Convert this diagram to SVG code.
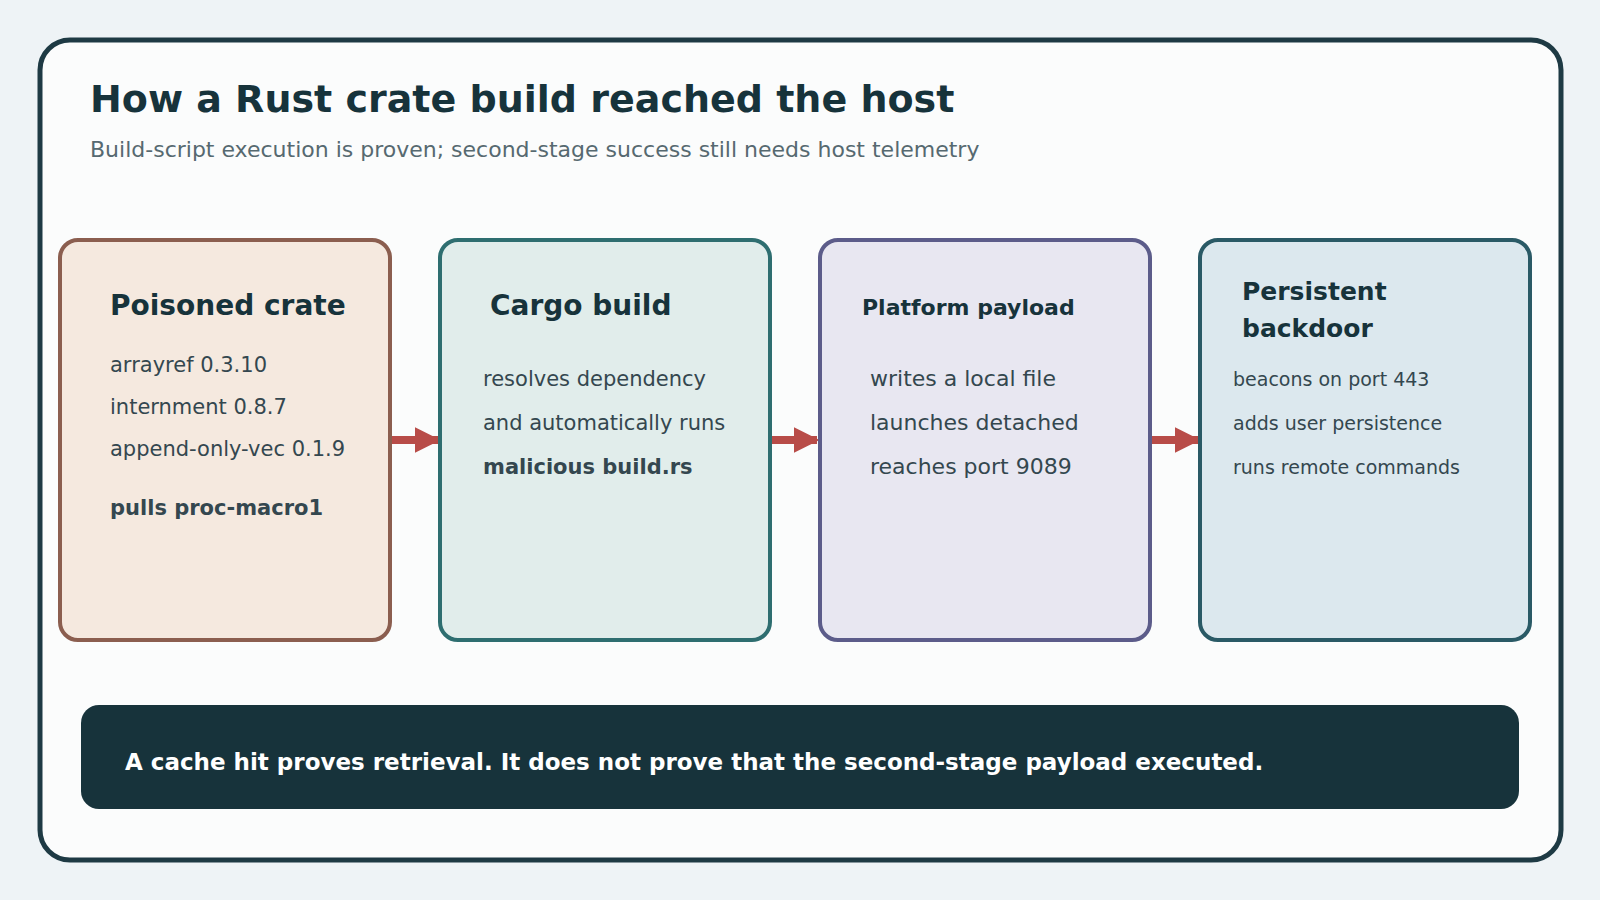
<svg xmlns="http://www.w3.org/2000/svg" width="1600" height="900" viewBox="0 0 1600 900">
<defs>
<marker id="ah" viewBox="0 0 10 10" refX="9" refY="5" markerWidth="3.2" markerHeight="3.2" orient="auto" markerUnits="strokeWidth"><path d="M0,0L10,5L0,10z" fill="#b84c48"/></marker>
</defs>
<style>
text{font-family:"DejaVu Sans",sans-serif;fill:#34474f}
.h{font-weight:bold;fill:#17333b}
.b{font-weight:bold}
.box{stroke-width:4}
.c{stroke:#b84c48;stroke-width:8;fill:none}
</style>
<rect width="1600" height="900" fill="#eef3f6"/>
<rect x="40" y="40" width="1521" height="820" rx="30" fill="#fbfcfc" stroke="#1e3a44" stroke-width="5"/>
<text x="90" y="112" class="h" font-size="38">How a Rust crate build reached the host</text>
<text x="90" y="157" font-size="22" style="fill:#566970">Build-script execution is proven; second-stage success still needs host telemetry</text>
<g id="connectors">
<line class="c" x1="390" y1="440" x2="438" y2="440" marker-end="url(#ah)"/>
<line class="c" x1="770" y1="440" x2="817" y2="440" marker-end="url(#ah)"/>
<line class="c" x1="1150" y1="440" x2="1198" y2="440" marker-end="url(#ah)"/>
</g>
<g id="n1">
<rect class="box" x="60" y="240" width="330" height="400" rx="18" fill="#f5e9df" stroke="#8b5e4f"/>
<text x="110" y="315" class="h" font-size="28">Poisoned crate</text>
<text x="110" y="372" font-size="21">arrayref 0.3.10</text>
<text x="110" y="414" font-size="21">internment 0.8.7</text>
<text x="110" y="456" font-size="21">append-only-vec 0.1.9</text>
<text x="110" y="515" class="b" font-size="21">pulls proc-macro1</text>
</g>
<g id="n2">
<rect class="box" x="440" y="240" width="330" height="400" rx="18" fill="#e1edeb" stroke="#2e6e70"/>
<text x="490" y="315" class="h" font-size="28">Cargo build</text>
<text x="483" y="386" font-size="21">resolves dependency</text>
<text x="483" y="430" font-size="21">and automatically runs</text>
<text x="483" y="474" class="b" font-size="21">malicious build.rs</text>
</g>
<g id="n3">
<rect class="box" x="820" y="240" width="330" height="400" rx="18" fill="#e8e7f1" stroke="#5c5c8a"/>
<text x="862" y="315" class="h" font-size="22">Platform payload</text>
<text x="870" y="386" font-size="22">writes a local file</text>
<text x="870" y="430" font-size="22">launches detached</text>
<text x="870" y="474" font-size="22">reaches port 9089</text>
</g>
<g id="n4">
<rect class="box" x="1200" y="240" width="330" height="400" rx="18" fill="#dce8ee" stroke="#2a5a66"/>
<text x="1242" y="300" class="h" font-size="25">Persistent</text>
<text x="1242" y="337" class="h" font-size="25">backdoor</text>
<text x="1233" y="386" font-size="19">beacons on port 443</text>
<text x="1233" y="430" font-size="19">adds user persistence</text>
<text x="1233" y="474" font-size="19">runs remote commands</text>
</g>
<g id="note">
<rect x="81" y="705" width="1438" height="104" rx="18" fill="#17333b"/>
<text x="125" y="770" class="b" font-size="23" style="fill:#ffffff">A cache hit proves retrieval. It does not prove that the second-stage payload executed.</text>
</g>
</svg>
